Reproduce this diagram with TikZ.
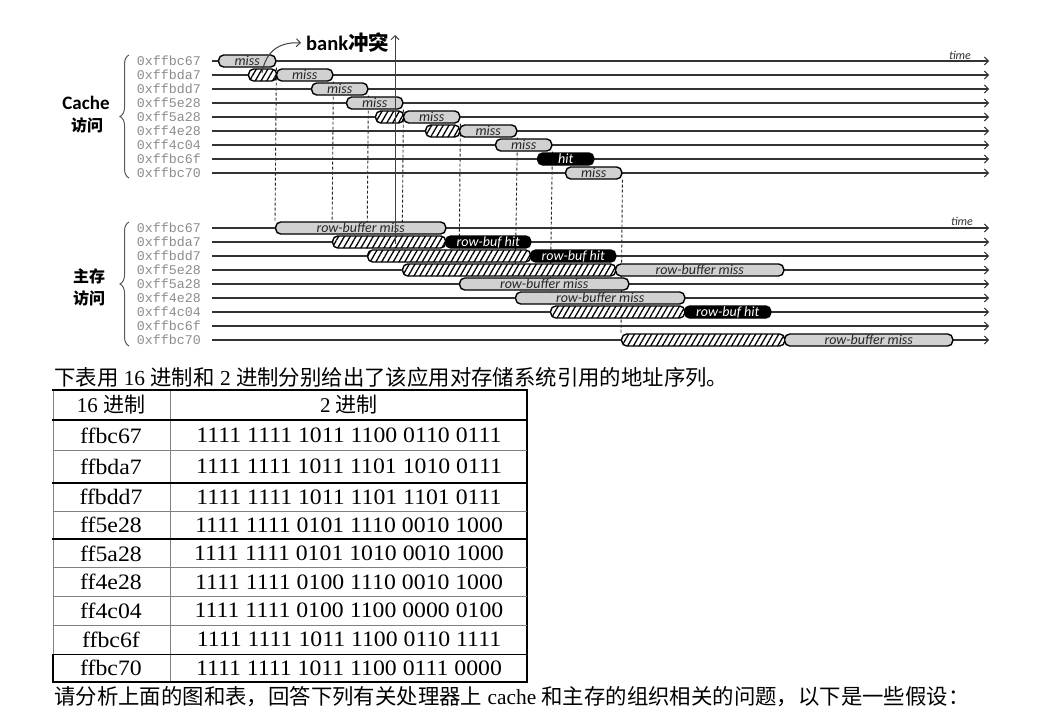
\documentclass[tikz,border=0pt]{standalone}
\usepackage{fontspec}
\setmainfont{Liberation Serif}
\newfontfamily\cjk{Noto Sans CJK SC}
\newfontfamily\calfont{Carlito}
\newfontfamily\addrfont{Liberation Mono}
\newfontfamily\tabfont[FakeStretch=1.08]{Liberation Serif}
\usetikzlibrary{arrows.meta,patterns.meta,decorations.pathreplacing,backgrounds}
\pgfdeclarelayer{paper}
\pgfsetlayers{paper,background,main}
\tikzset{
  rowline/.style={line width=1.2pt, draw=black!80, -{Straight Barb[length=4pt,width=8pt,line width=1pt]}},
  addr/.style={anchor=east, inner sep=1pt, text=black!45, font=\addrfont\fontsize{13.3}{13}\selectfont},
  boxbase/.style={draw=black, line width=1.4pt, rounded corners=5pt, minimum height=12pt, inner sep=0pt, anchor=west, font=\calfont\itshape\fontsize{14}{12}\selectfont},
  missbox/.style={boxbase, fill=black!18, text=black!85},
  hitbox/.style={boxbase, fill=black, text=white},
  hatchbox/.style={boxbase, preaction={fill=white}, pattern={Lines[angle=60,distance=5pt,line width=1.3pt]}},
  dashline/.style={draw=black!85, line width=0.9pt, dash pattern=on 3pt off 2pt},
  bankarrow/.style={draw=black!75, line width=1pt, -{Straight Barb[length=4pt,width=8pt,line width=1pt]}},
  bracestyle/.style={draw=black!65, line width=1pt, decorate, decoration={brace, amplitude=9pt}},
  sidelab/.style={inner sep=0pt, font=\calfont\bfseries\fontsize{19}{19}\selectfont},
  sidecjk/.style={inner sep=0pt, font=\cjk\bfseries\fontsize{16}{16}\selectfont},
  timelab/.style={inner sep=0pt, text=black!80, font=\calfont\itshape\fontsize{12}{12}\selectfont},
  cell/.style={inner sep=0pt, font=\tabfont\fontsize{22}{22}\selectfont},
  thin/.style={draw=black!50, line width=0.8pt},
  thick/.style={draw=black, line width=1.6pt},
  para/.style={anchor=west, inner sep=0pt, font=\fontsize{21.4}{21}\selectfont},
}
\begin{document}
\begin{tikzpicture}[x=1pt,y=-1pt]
\useasboundingbox (0,0) rectangle (1040,713);
\begin{pgfonlayer}{paper}
\fill[white] (0,0) rectangle (1040,713);
\end{pgfonlayer}

% ---- rows
\foreach \a [count=\i from 0] in {0xffbc67,0xffbda7,0xffbdd7,0xff5e28,0xff5a28,0xff4e28,0xff4c04,0xffbc6f,0xffbc70}{
  \pgfmathsetmacro\yt{61+14*\i}
  \pgfmathsetmacro\yb{228+14*\i}
  \coordinate (ts\i) at (212,\yt);
  \coordinate (te\i) at (989,\yt);
  \coordinate (bs\i) at (212,\yb);
  \coordinate (be\i) at (989,\yb);
  \draw[rowline] (ts\i) -- (te\i);
  \draw[rowline] (bs\i) -- (be\i);
  \node[addr] (ta\i) at (202,\yt) {\a};
  \node[addr] (ba\i) at (202,\yb) {\a};
}

\node[timelab] (time1) at (960,55) {time};
\node[timelab] (time2) at (962,221) {time};

% ---- cache accesses
\node[missbox, minimum width=57pt] (c0) at (218,61) {miss};
\node[hatchbox, minimum width=28pt] (c1h) at (248,75) {};
\node[missbox, minimum width=56pt] (c1) at (276,75) {miss};
\node[missbox, minimum width=56pt] (c2) at (311,89) {miss};
\node[missbox, minimum width=56pt] (c3) at (346,103) {miss};
\node[hatchbox, minimum width=28pt] (c4h) at (375,117) {};
\node[missbox, minimum width=56pt] (c4) at (403,117) {miss};
\node[hatchbox, minimum width=34pt] (c5h) at (425,131) {};
\node[missbox, minimum width=57pt] (c5) at (459,131) {miss};
\node[missbox, minimum width=56pt] (c6) at (495,145) {miss};
\node[hitbox, minimum width=56pt] (c7) at (537,159) {hit};
\node[missbox, minimum width=56pt] (c8) at (565,173) {miss};

% ---- memory accesses
\node[missbox, minimum width=170pt] (m0) at (275,228) {row-buffer miss};
\node[hatchbox, minimum width=113pt] (m1h) at (332,242) {};
\node[hitbox, minimum width=85pt] (m1) at (445,242) {row-buf hit};
\node[hatchbox, minimum width=163pt] (m2h) at (367,256) {};
\node[hitbox, minimum width=85pt] (m2) at (530,256) {row-buf hit};
\node[hatchbox, minimum width=213pt] (m3h) at (402,270) {};
\node[missbox, minimum width=168pt] (m3) at (615,270) {row-buffer miss};
\node[missbox, minimum width=169pt] (m4) at (459,284) {row-buffer miss};
\node[missbox, minimum width=169pt] (m5) at (515,298) {row-buffer miss};
\node[hatchbox, minimum width=134pt] (m6h) at (550,312) {};
\node[hitbox, minimum width=86pt] (m6) at (684,312) {row-buf hit};
\node[hatchbox, minimum width=163pt] (m8h) at (621,340) {};
\node[missbox, minimum width=168pt] (m8) at (784,340) {row-buffer miss};

% ---- dashed links (behind boxes)
\begin{pgfonlayer}{background}
\draw[dashline] (c0.south east) -- (m0.north west);
\draw[dashline] (c1.south east) -- (m1h.north west);
\draw[dashline] (c2.south east) -- (m2h.north west);
\draw[dashline] (c3.south east) -- (m3h.north west);
\draw[dashline] (c4.south east) -- (m4.north west);
\draw[dashline] (c5.south east) -- (m5.north west);
\draw[dashline] (c6.south east) -- (m6h.north west);
\draw[dashline] (c8.south east) -- (m8h.north west);
\end{pgfonlayer}

% ---- bank conflict
\node[anchor=west, inner sep=1pt, font=\bfseries\fontsize{20.5}{20}\selectfont] (bank) at (305,43) {{\calfont bank}{\cjk 冲突}};
\coordinate (bankbot) at (395,244);
\coordinate (banktop) at (395,35);
\draw[bankarrow] (bankbot) -- (banktop);
\coordinate (curvestart) at (262,73);
\draw[bankarrow, shorten >=4pt] (curvestart) .. controls (266,50) and (280,42) .. (bank.west);

% ---- braces and side labels
\coordinate (tb1) at (129,178);
\coordinate (tb2) at (129,55);
\draw[bracestyle] (tb1) -- (tb2);
\coordinate (bb1) at (129,346);
\coordinate (bb2) at (129,222);
\draw[bracestyle] (bb1) -- (bb2);
\node[sidelab] (cachelab) at (86,103) {Cache};
\node[sidecjk] (cachefw) at (87,125) {访问};
\node[sidecjk] (memlab) at (89,276) {主存};
\node[sidecjk] (memfw) at (89,298) {访问};

% ---- caption
\node[para] (cap) at (54,377) {{\cjk 下表用} 16 {\cjk 进制和} 2 {\cjk 进制分别给出了该应用对存储系统引用的地址序列。}};

% ---- table
\draw[thin] (53,390) -- (53,654.3);
\draw[thick] (53,654.3) -- (53,681.7);
\draw[thin] (170,390) -- (170,681.7);
\draw[thick] (527,390) -- (527,681.7);
\foreach \yy in {450.7,511,567.7,596,625}{ \draw[thin] (53,\yy) -- (527,\yy); }
\foreach \yy in {390,420,482.7,539,654.3,681.7}{ \draw[thick] (52,\yy) -- (528,\yy); }
\node[cell, font=\fontsize{21}{21}\selectfont] (h1) at (111,405) {16 {\cjk 进制}};
\node[cell, font=\fontsize{21}{21}\selectfont] (h2) at (349,405) {2 {\cjk 进制}};
\foreach \hx/\bn/\yc [count=\k] in {
  ffbc67/1111 1111 1011 1100 0110 0111/435.4,
  ffbda7/1111 1111 1011 1101 1010 0111/466.7,
  ffbdd7/1111 1111 1011 1101 1101 0111/496.9,
  ff5e28/1111 1111 0101 1110 0010 1000/525,
  ff5a28/1111 1111 0101 1010 0010 1000/553.4,
  ff4e28/1111 1111 0100 1110 0010 1000/581.9,
  ff4c04/1111 1111 0100 1100 0000 0100/610.5,
  ffbc6f/1111 1111 1011 1100 0110 1111/639.7,
  ffbc70/1111 1111 1011 1100 0111 0000/668}{
  \node[cell] (hx\k) at (111,\yc) {\hx};
  \node[cell] (bn\k) at (349,\yc) {\bn};
}

% ---- closing paragraph
\node[para] (q) at (54,697) {{\cjk 请分析上面的图和表，回答下列有关处理器上} cache {\cjk 和主存的组织相关的问题，以下是一些假设：}};
\end{tikzpicture}
\end{document}
